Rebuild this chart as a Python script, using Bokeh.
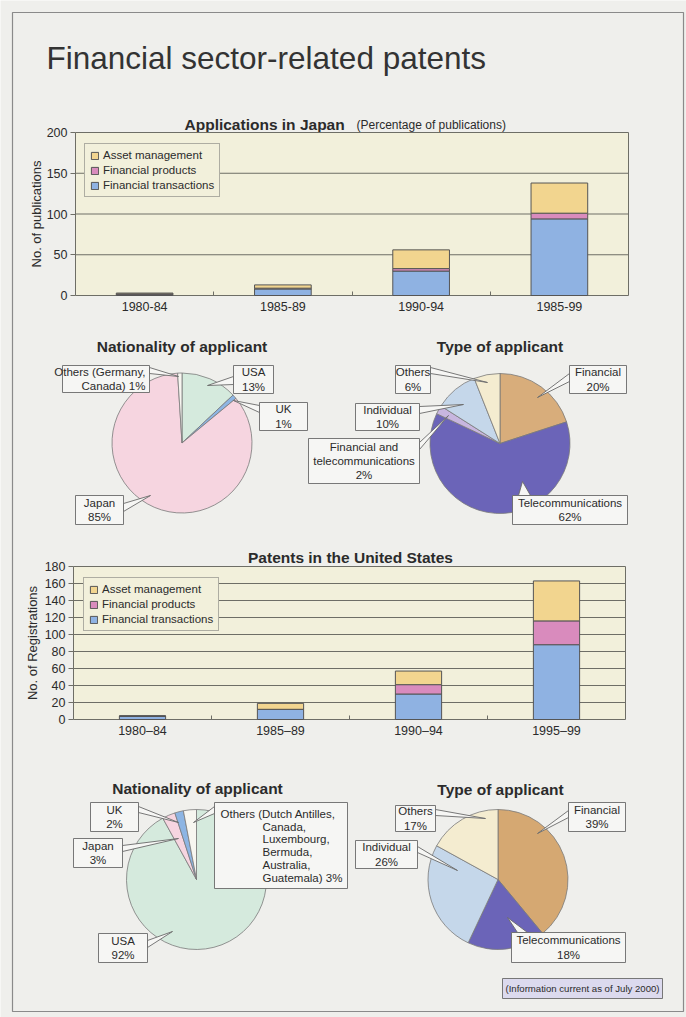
import numpy as np
from bokeh.plotting import figure
from bokeh.models import (Range1d, LinearAxis, FixedTicker, Legend, LegendItem,
                          ColumnDataSource)
from bokeh.core.properties import value
from bokeh.embed import file_html
from bokeh.resources import INLINE

W, H = 686, 1017
FONT = "Liberation Sans"

# ---------------- data ----------------
series_names = ["Asset management", "Financial products", "Financial transactions"]

jp_periods = ["1980-84", "1985-89", "1990-94", "1985-99"]
jp_transactions = [1, 8, 30, 94]
jp_products = [1, 1, 3, 7]
jp_asset = [1, 4, 23, 37]

us_periods = ["1980–84", "1985–89", "1990–94", "1995–99"]
us_transactions = [4, 12, 30, 88]
us_products = [0, 0, 11, 28]
us_asset = [0, 7, 16, 47]

jp_nat_labels = ["USA", "UK", "Japan", "Others (Germany,\nCanada)"]
jp_nat_share = [13, 1, 85, 1]

jp_type_labels = ["Financial", "Telecommunications", "Financial and\ntelecommunications",
                  "Individual", "Others"]
jp_type_share = [20, 62, 2, 10, 6]

us_nat_labels = ["USA", "Japan", "UK",
                 "Others (Dutch Antilles,\nCanada,\nLuxembourg,\nBermuda,\nAustralia,\nGuatemala)"]
us_nat_share = [92, 3, 2, 3]

us_type_labels = ["Financial", "Telecommunications", "Individual", "Others"]
us_type_share = [39, 18, 26, 17]

# ---------------- styling ----------------
BG = "#efefec"
PLOT_BG = "#f2f0db"
GRID = "#6e6e66"
YELLOW = "#f2d58f"
PINK = "#d98bbd"
BLUE = "#8fb2e2"
BAR_EDGE = "#555555"
TXT = "#2b2b2b"
PIE_EDGE = "#7a7a7a"
BOX_FILL = "#f6f6f4"
BOX_EDGE = "#6a6a6a"

p = figure(width=W, height=H, x_range=Range1d(0, W), y_range=Range1d(0, H),
           x_axis_type=None, y_axis_type=None, toolbar_location=None,
           output_backend="svg", min_border=0,
           background_fill_color=BG, border_fill_color=BG, outline_line_color=None)


def Y(y):
    """page position measured from the top -> data y"""
    return H - y


def txt(x, y, s, size="11.5px", align="center", baseline="middle", style="normal",
        color=TXT, line_height=1.2, angle=0):
    p.text(x=[x], y=[Y(y)], text=[s], text_font=value(FONT), text_font_size=size,
           text_align=align, text_baseline=baseline, text_font_style=style,
           text_color=color, text_line_height=line_height, angle=angle)


# page frame and heading
p.quad(left=12, right=683, top=Y(12), bottom=Y(1011), fill_color=None,
       line_color="#8a8a8a", line_width=1.2)
txt(46, 57, "Financial sector-related patents", size="31.5px", align="left",
    baseline="alphabetic", color="#333333")


def bar_chart(tag, periods, transactions, products, asset, box, vmax, step,
              ylabel, bar_w, legend_at, ylabel_gap, xlabel_gap):
    left, top, right, bottom = box
    n = len(periods)
    sx = (right - left) / n
    x0 = 0.5 - left / sx
    p.extra_x_ranges[tag] = Range1d(x0, x0 + W / sx)
    sy = (bottom - top) / vmax
    y0 = -(H - bottom) / sy
    p.extra_y_ranges[tag] = Range1d(y0, y0 + H / sy)
    kw = dict(x_range_name=tag, y_range_name=tag)

    ticks = list(range(0, vmax + 1, step))
    p.quad(left=0.5, right=n + 0.5, bottom=0, top=vmax, fill_color=PLOT_BG,
           line_color=GRID, line_width=1, **kw)
    inner = ticks[1:-1]
    p.segment(x0=[0.5] * len(inner), x1=[n + 0.5] * len(inner), y0=inner, y1=inner,
              line_color=GRID, line_width=1, **kw)

    src = ColumnDataSource(dict(x=np.arange(1, n + 1), transactions=transactions,
                                products=products, asset=asset))
    rs = p.vbar_stack(["transactions", "products", "asset"], x="x", width=bar_w,
                      source=src, fill_color=[BLUE, PINK, YELLOW],
                      line_color=BAR_EDGE, line_width=1, **kw)

    yax = LinearAxis(y_range_name=tag, fixed_location=left, bounds=(0, vmax),
                     ticker=FixedTicker(ticks=ticks, minor_ticks=[]),
                     axis_label=ylabel)
    yax.axis_line_color = None
    yax.major_tick_line_color = GRID
    yax.major_tick_out = 5
    yax.major_tick_in = 0
    yax.minor_tick_line_color = None
    yax.major_label_standoff = 3
    yax.major_label_text_font = FONT
    yax.major_label_text_font_size = "12.5px"
    yax.major_label_text_color = TXT
    yax.axis_label_text_font = FONT
    yax.axis_label_text_font_size = "13px"
    yax.axis_label_text_font_style = "normal"
    yax.axis_label_text_color = TXT
    yax.axis_label_standoff = ylabel_gap
    p.add_layout(yax, "left")

    xax = LinearAxis(x_range_name=tag, y_range_name=tag, fixed_location=0,
                     bounds=(0.5, n + 0.5),
                     ticker=FixedTicker(ticks=list(range(1, n + 1)),
                                        minor_ticks=[i + 0.5 for i in range(1, n)]),
                     major_label_overrides={i + 1: s for i, s in enumerate(periods)})
    xax.axis_line_color = None
    xax.major_tick_line_color = None
    xax.major_tick_out = 0
    xax.major_tick_in = 0
    xax.minor_tick_line_color = GRID
    xax.minor_tick_in = 4
    xax.minor_tick_out = 0
    xax.major_label_standoff = xlabel_gap
    xax.major_label_text_font = FONT
    xax.major_label_text_font_size = "12.5px"
    xax.major_label_text_color = TXT
    p.add_layout(xax, "below")

    items = [LegendItem(label=name, renderers=[r])
             for name, r in zip(series_names, [rs[2], rs[1], rs[0]])]
    leg = Legend(items=items, location=(legend_at[0], H - legend_at[1]),
                 orientation="vertical")
    leg.label_text_font = FONT
    leg.label_text_font_size = "11.5px"
    leg.label_text_color = TXT
    leg.label_height = 12
    leg.label_standoff = 4
    leg.glyph_width = 9
    leg.glyph_height = 9
    leg.spacing = 3
    leg.padding = 5
    leg.margin = 0
    leg.border_line_color = BOX_EDGE
    leg.border_line_width = 1
    leg.background_fill_color = PLOT_BG
    leg.background_fill_alpha = 1
    p.add_layout(leg)


def pie(cx, cy, shares, colors, r=70):
    frac = np.asarray(shares, dtype=float) / sum(shares)
    ends = np.cumsum(frac)
    starts = ends - frac
    k = len(shares)
    p.wedge(x=[cx] * k, y=[Y(cy)] * k, radius=r,
            start_angle=np.pi / 2 - 2 * np.pi * starts,
            end_angle=np.pi / 2 - 2 * np.pi * ends, direction="clock",
            fill_color=colors, line_color=PIE_EDGE, line_width=0.8)


def callout(box, base, tip, text, align="center"):
    x0, y0, x1, y1 = box
    (bx0, by0), (bx1, by1) = base
    tx, ty = tip
    p.patch([bx0, bx1, tx], [Y(by0), Y(by1), Y(ty)], fill_color=BOX_FILL,
            line_color=BOX_EDGE, line_width=0.9)
    p.quad(left=x0, right=x1, top=Y(y0), bottom=Y(y1), fill_color=BOX_FILL,
           line_color=BOX_EDGE, line_width=0.9)
    if align == "center":
        txt((x0 + x1) / 2, (y0 + y1) / 2, text)
    elif align == "right":
        txt(x1 - 4, (y0 + y1) / 2, text, align="right")


def label_of(name, share, sep="\n"):
    return f"{name}{sep}{share}%"


# ---------------- Applications in Japan ----------------
txt(184, 124, "Applications in Japan", size="15.5px", align="left",
    baseline="alphabetic", style="bold")
txt(356, 124, "(Percentage of publications)", size="12px", align="left",
    baseline="alphabetic")
bar_chart("jp", jp_periods, jp_transactions, jp_products, jp_asset,
          box=(75, 132, 628, 295), vmax=200, step=50,
          ylabel="No. of publications", bar_w=0.41, legend_at=(84, 197),
          ylabel_gap=0, xlabel_gap=6)

# ---------------- Japan pies ----------------
txt(181.5, 346, "Nationality of applicant", size="15.5px", baseline="alphabetic",
    style="bold")
pie(181.5, 442.5, jp_nat_share, ["#d5eadd", "#8db5e3", "#f6d5e0", "#f7f6f0"])
jp_nat_call = [
    dict(box=(233, 365, 273, 393), base=((233, 376), (233, 384)), tip=(207, 385)),
    dict(box=(259, 402, 307, 430), base=((259, 405), (259, 412)), tip=(233, 400)),
    dict(box=(75, 495, 123, 524), base=((123, 503), (123, 511)), tip=(150, 495)),
    dict(box=(62, 365, 149, 392), base=((149, 367), (149, 373)), tip=(178, 376),
         align="right", sep=" "),
]
for c, name, s in zip(jp_nat_call, jp_nat_labels, jp_nat_share):
    callout(c["box"], c["base"], c["tip"], label_of(name, s, c.get("sep", "\n")),
            c.get("align", "center"))

txt(499.5, 346, "Type of applicant", size="15.5px", baseline="alphabetic", style="bold")
pie(499.5, 443, jp_type_share, ["#d8ad7b", "#6b64b8", "#c8b6df", "#c5d7ea", "#f4ecd0"])
jp_type_call = [
    dict(box=(569, 365, 626, 393), base=((569, 373), (569, 381)), tip=(537, 397)),
    dict(box=(512, 495, 627, 524), base=((518, 495), (530, 495)), tip=(522, 481)),
    dict(box=(308, 438, 419, 483), base=((419, 442), (419, 449)), tip=(448, 415)),
    dict(box=(355, 403, 419, 430), base=((419, 406), (419, 413)), tip=(463, 404)),
    dict(box=(395, 365, 430, 393), base=((430, 367), (430, 373)), tip=(487, 382)),
]
for c, name, s in zip(jp_type_call, jp_type_labels, jp_type_share):
    callout(c["box"], c["base"], c["tip"], label_of(name, s))

# ---------------- Patents in the United States ----------------
txt(350, 557, "Patents in the United States", size="15.5px", baseline="alphabetic",
    style="bold")
bar_chart("us", us_periods, us_transactions, us_products, us_asset,
          box=(73, 566, 625, 719), vmax=180, step=20,
          ylabel="No. of Registrations", bar_w=0.335, legend_at=(83, 631),
          ylabel_gap=2, xlabel_gap=4)

# ---------------- US pies ----------------
txt(197, 788, "Nationality of applicant", size="15.5px", baseline="alphabetic",
    style="bold")
pie(196, 879, us_nat_share, ["#d5eadd", "#f6d5e0", "#8db5e3", "#f7f6f0"])
us_nat_call = [
    dict(box=(98, 933, 147, 962), base=((147, 940), (147, 947)), tip=(172, 931)),
    dict(box=(73, 838, 122, 867), base=((122, 845), (122, 851)), tip=(178, 838)),
    dict(box=(90, 802, 138, 831), base=((138, 806), (138, 812)), tip=(178, 822)),
    dict(box=(214, 802, 347, 888), base=((214, 806), (214, 813)), tip=(193, 822),
         align="hang", sep=" "),
]
for c, name, s in zip(us_nat_call, us_nat_labels, us_nat_share):
    text = label_of(name, s, c.get("sep", "\n"))
    callout(c["box"], c["base"], c["tip"], text, c.get("align", "center"))
    if c.get("align") == "hang":
        lines = text.split("\n")
        # first line flush, the rest hang under the opening parenthesis
        txt(220, 813, lines[0], align="left")
        for i, line in enumerate(lines[1:]):
            txt(262, 826 + 12.8 * i, line, align="left")

txt(500, 789, "Type of applicant", size="15.5px", baseline="alphabetic", style="bold")
pie(497.5, 879, us_type_share, ["#d5a872", "#6b64b8", "#c5d7ea", "#f4ecd0"])
us_type_call = [
    dict(box=(568, 802, 625, 831), base=((568, 810), (568, 817)), tip=(537, 833)),
    dict(box=(511, 932, 625, 962), base=((517, 932), (527, 932)), tip=(507, 917)),
    dict(box=(355, 840, 417, 868), base=((417, 846), (417, 852)), tip=(457, 870)),
    dict(box=(395, 805, 435, 831), base=((435, 809), (435, 815)), tip=(485, 818)),
]
for c, name, s in zip(us_type_call, us_type_labels, us_type_share):
    callout(c["box"], c["base"], c["tip"], label_of(name, s))

# note
p.quad(left=502, right=662, top=Y(978), bottom=Y(998), fill_color="#dcdaee",
       line_color=BOX_EDGE, line_width=0.9)
txt(582, 988, "(Information current as of July 2000)", size="9.6px")

open("out.html", "w").write(file_html(p, INLINE))
